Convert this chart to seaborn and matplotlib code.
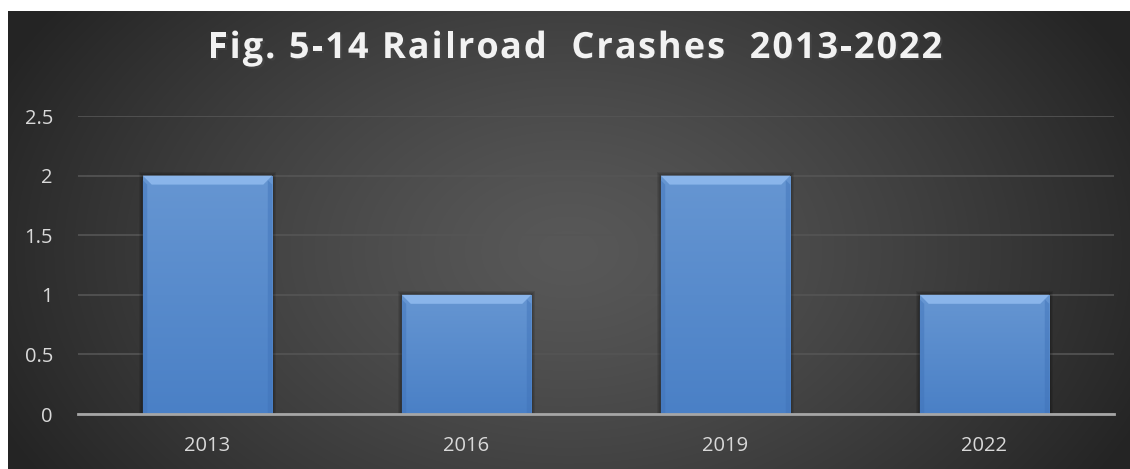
import numpy as np
import pandas as pd
import matplotlib
matplotlib.use("Agg")
import matplotlib.pyplot as plt
import matplotlib.patheffects as pe
from matplotlib.patches import Polygon, Rectangle
import seaborn as sns

years = ["2013", "2016", "2019", "2022"]
crashes = [2, 1, 2, 1]
y_ticks = [0, 0.5, 1, 1.5, 2, 2.5]
y_tick_labels = ["0", "0.5", "1", "1.5", "2", "2.5"]
title = "Fig. 5-14 Railroad  Crashes  2013-2022"

sns.set_theme(style="dark")
plt.rcParams["font.family"] = ["Open Sans", "DejaVu Sans"]

W, H = 1130, 469
fig = plt.figure(figsize=(W / 100, H / 100), dpi=100, facecolor="white")

# dark panel with a soft radial highlight
bg = fig.add_axes([8 / W, 0, 1 - 8 / W, (H - 11) / H])
yy, xx = np.mgrid[0:458, 0:1122]
cx, cy = 560, 240
d = np.sqrt(((xx - cx) / 620.0) ** 2 + ((yy - cy) / 420.0) ** 2)
val = 0.345 - 0.20 * np.clip(d, 0, 1) ** 1.3
bg.imshow(np.dstack([val, val, val]), aspect="auto", extent=[0, 1, 0, 1],
          interpolation="bilinear")
bg.set_axis_off()

ax = fig.add_axes([78 / W, (H - 414) / H, (1114 - 78) / W, (414 - 116) / H])
ax.patch.set_alpha(0)

df = pd.DataFrame({"year": years, "crashes": crashes})
sns.barplot(data=df, x="year", y="crashes", ax=ax, width=0.5,
            color="#5a8ed2", saturation=1, edgecolor="none", zorder=3)

ax.set_ylim(0, 2.5)
ax.set_xlim(-0.5, len(years) - 0.5)
ax.set_yticks(y_ticks)
ax.set_yticklabels(y_tick_labels)
ax.yaxis.grid(True, color="#555555", linewidth=1.2, zorder=0)
ax.xaxis.grid(False)
for s in ["top", "right", "left"]:
    ax.spines[s].set_visible(False)
ax.spines["bottom"].set_color("#a6a6a6")
ax.spines["bottom"].set_linewidth(2)
ax.spines["bottom"].set_zorder(5)
ax.tick_params(axis="both", colors="#d9d9d9", labelsize=14.5, length=0)
ax.tick_params(axis="x", pad=16)
ax.tick_params(axis="y", pad=18)
ax.set_xlabel("")
ax.set_ylabel("")

# bevelled, gradient-shaded bars with a soft dark halo
grad = np.linspace(0, 1, 256).reshape(-1, 1)
cmap = matplotlib.colors.LinearSegmentedColormap.from_list(
    "bar", ["#4a80c6", "#6696d2"])
px_y = 2.5 / 298.0
px_x = 4.0 / 1036.0
for p in list(ax.patches):
    x0, y0 = p.get_x(), p.get_y()
    w, h = p.get_width(), p.get_height()
    for k in range(1, 5):
        ax.add_patch(Rectangle((x0 - k * px_x, y0), w + 2 * k * px_x, h + k * px_y,
                               facecolor="black", alpha=0.09, edgecolor="none",
                               zorder=2.5))
    im = ax.imshow(grad, cmap=cmap, aspect="auto",
                   extent=[x0, x0 + w, y0, y0 + h], origin="lower", zorder=3.5)
    im.set_clip_path(p)
    bev = 9 * px_y
    dx = w * 9 / 130.0
    top = Polygon([[x0, y0 + h], [x0 + w, y0 + h], [x0 + w - dx, y0 + h - bev],
                   [x0 + dx, y0 + h - bev]], closed=True,
                  facecolor="#8ab5ea", edgecolor="none", zorder=4)
    ax.add_patch(top)
    for sx in (x0, x0 + w - dx * 0.5):
        side = Polygon([[sx, y0], [sx + dx * 0.5, y0], [sx + dx * 0.5, y0 + h - bev],
                        [sx, y0 + h - bev * 0.5]], closed=True,
                       facecolor="#3f72b8", alpha=0.45, edgecolor="none", zorder=4)
        ax.add_patch(side)
ax.set_ylim(0, 2.5)
ax.set_xlim(-0.5, len(years) - 0.5)

# letter-spaced title: place each character from measured prefix widths
renderer = fig.canvas.get_renderer()
title_kw = dict(fontsize=26, fontweight="bold", color="#f2f2f2",
                path_effects=[pe.withSimplePatchShadow(offset=(1.5, -1.5), alpha=0.6)])
tracking = 2.0  # extra pixels between characters


def text_width(s):
    if not s:
        return 0.0
    t = fig.text(0, 0, s.replace(" ", "\u00a0"), **title_kw)
    wpx = t.get_window_extent(renderer).width
    t.remove()
    return wpx


offsets = [text_width(title[:i]) + tracking * i for i in range(len(title))]
total = text_width(title) + tracking * (len(title) - 1)
x_start = 575 - total / 2
y_base = H - 58
for ch, off in zip(title, offsets):
    if ch == " ":
        continue
    fig.text((x_start + off) / W, y_base / H, ch, ha="left", va="baseline", **title_kw)

fig.savefig("out.png", dpi=100, facecolor="white")
